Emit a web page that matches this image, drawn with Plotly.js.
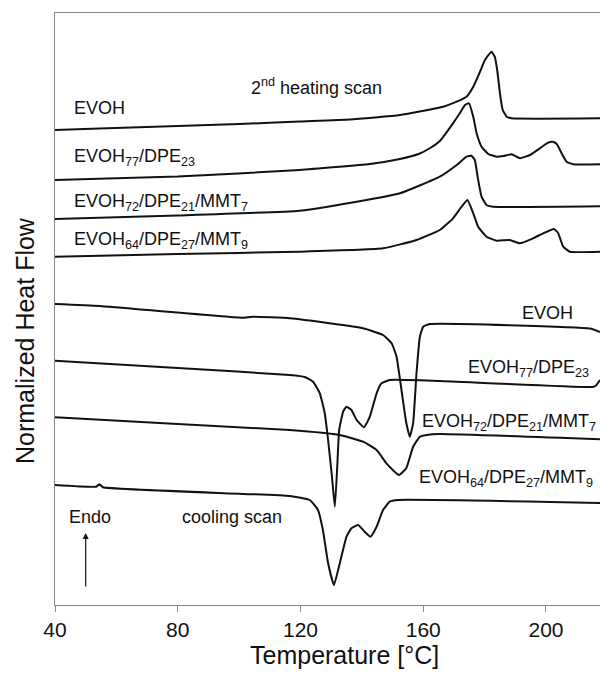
<!DOCTYPE html>
<html>
<head>
<meta charset="utf-8">
<script src="https://cdn.plot.ly/plotly-3.0.1.min.js"></script>
<style>html,body{margin:0;padding:0;background:#fff;}#chart{width:600px;height:675px;}</style>
</head>
<body>
<div id="chart"></div>
<script>
// ---- Data (temperature in °C, normalized heat flow in arbitrary offset units) ----
// 2nd heating scan
const heatEVOH_T = [40, 54.5, 80, 100.2, 119.7, 136.1, 152.4, 166.5, 170.9, 174.1, 176.3, 178.5, 180.1, 181.7, 182.3, 183.3, 184.1, 185.0, 185.9, 187.2, 188.8, 217.6];
const heatEVOH_Q = [475, 476.5, 479, 481, 483.5, 485.5, 490, 498.3, 503.3, 508.3, 518.3, 533.3, 545, 551.7, 553.3, 548.3, 535, 511.7, 495, 488.3, 486.7, 486.7];

const heatDPE23_T = [40, 80, 119.7, 142.6, 152.4, 158.5, 162.0, 165.4, 169.7, 171.9, 173.6, 174.9, 176.3, 177.4, 179.0, 181.2, 183.9, 186.1, 188.8, 191.5, 194.8, 198.0, 200.7, 202.2, 203.5, 205.1, 206.7, 208.9, 217.6];
const heatDPE23_Q = [425, 428.5, 435, 441, 446, 451, 456.5, 464, 481.7, 491.7, 500, 501.7, 488.3, 471.7, 458.3, 451, 448.3, 449, 450.7, 446.7, 450, 456.7, 462.3, 463.3, 461, 451.7, 443.3, 440.7, 440.7];

const heatMMT7_T = [40, 80, 119.7, 141.5, 152.4, 165.4, 170.9, 174.1, 175.7, 176.8, 177.9, 179.0, 180.6, 182.8, 217.6];
const heatMMT7_Q = [386, 389.5, 394.3, 405, 411.7, 428.3, 440, 448.3, 449.3, 445, 425, 408.3, 400, 398.3, 398.7];

const heatMMT9_T = [40, 80, 119.7, 146.9, 157.8, 165.4, 169.7, 172.5, 174.4, 176.3, 177.9, 180.6, 183.9, 188.2, 191.5, 195.8, 199.1, 202.6, 204.0, 205.6, 207.8, 217.6];
const heatMMT9_Q = [348.3, 351, 353.3, 356.7, 365, 375, 386.7, 398.3, 405, 391.7, 378.3, 368.3, 364.3, 365, 361.7, 366.7, 371.7, 376, 371.7, 358.3, 353.3, 353.3];

// cooling scan
const coolEVOH_T = [40, 54.5, 100.7, 104.5, 116.5, 129.5, 140.4, 146.9, 149.7, 151.3, 152.9, 154.5, 155.6, 156.7, 157.8, 158.9, 160.0, 162.1, 214.3, 217.6];
const coolEVOH_Q = [301, 299, 287.3, 288.3, 286.7, 281.7, 276.7, 270, 261.7, 248.3, 215, 181.7, 168.3, 181.7, 231.7, 268.3, 278.3, 281, 276.5, 273];

const coolDPE23_T = [40, 80, 116.5, 121.4, 124.1, 126.3, 127.9, 129.0, 130.2, 131.2, 132.0, 132.6, 133.9, 135.0, 136.6, 138.3, 140.7, 142.6, 144.8, 146.4, 149.1, 165.4, 215.3, 216.3, 217.6];
const coolDPE23_Q = [244.3, 237, 230, 228, 223.3, 211.7, 191.7, 165, 130, 98.3, 140, 175, 193.3, 198.3, 195, 185, 177.7, 188.3, 211.7, 221.7, 225, 224, 218, 219.5, 225];

const coolMMT7_T = [40, 80, 116.5, 132.8, 140.4, 144.8, 148.0, 150.1, 152.1, 154.5, 156.7, 158.9, 161.1, 165.4, 217.6];
const coolMMT7_Q = [187.7, 181, 175, 170, 163.3, 155, 141.7, 135, 130, 137, 158.3, 168.3, 170, 171, 165.7];

const coolMMT9_T = [40, 53.4, 54.5, 55.6, 116.5, 123.0, 125.7, 127.3, 129.0, 130.9, 132.8, 135.0, 136.6, 138.8, 140.9, 142.8, 144.8, 146.9, 149.1, 151.8, 217.6];
const coolMMT9_Q = [120, 118.3, 120.7, 117.7, 109, 105, 95, 75, 41.7, 20, 41.7, 68.3, 76.7, 80, 73.3, 68.3, 78.3, 95, 103.3, 105, 102];

const xTicks = [40, 80, 120, 160, 200];

// ---- Build traces ----
const FONT = '"Liberation Sans", Arial, sans-serif';
const lineStyle = {color: '#111', width: 2, shape: 'spline', smoothing: 0.4};
const series = [
  ['EVOH (heating)', heatEVOH_T, heatEVOH_Q],
  ['EVOH77/DPE23 (heating)', heatDPE23_T, heatDPE23_Q],
  ['EVOH72/DPE21/MMT7 (heating)', heatMMT7_T, heatMMT7_Q],
  ['EVOH64/DPE27/MMT9 (heating)', heatMMT9_T, heatMMT9_Q],
  ['EVOH (cooling)', coolEVOH_T, coolEVOH_Q],
  ['EVOH77/DPE23 (cooling)', coolDPE23_T, coolDPE23_Q],
  ['EVOH72/DPE21/MMT7 (cooling)', coolMMT7_T, coolMMT7_Q],
  ['EVOH64/DPE27/MMT9 (cooling)', coolMMT9_T, coolMMT9_Q]
];
const traces = series.map(s => ({
  type: 'scatter', mode: 'lines', name: s[0], x: s[1], y: s[2],
  line: lineStyle, hoverinfo: 'skip'
}));

function lab(text, x, y, size) {
  return {text: text, x: x, y: y, xref: 'x', yref: 'y', xanchor: 'left', yanchor: 'middle',
          showarrow: false, font: {family: FONT, size: size || 18, color: '#111'}};
}

const annotations = [
  lab('EVOH', 45.4, 497),
  lab('2<sup>nd</sup> heating scan', 103.2, 519),
  lab('EVOH<sub>77</sub>/DPE<sub>23</sub>', 45.4, 448),
  lab('EVOH<sub>72</sub>/DPE<sub>21</sub>/MMT<sub>7</sub>', 45.4, 403),
  lab('EVOH<sub>64</sub>/DPE<sub>27</sub>/MMT<sub>9</sub>', 45.4, 364.5),
  lab('EVOH', 191.5, 292),
  lab('EVOH<sub>77</sub>/DPE<sub>23</sub>', 173.9, 237),
  lab('EVOH<sub>72</sub>/DPE<sub>21</sub>/MMT<sub>7</sub>', 158.9, 183),
  lab('EVOH<sub>64</sub>/DPE<sub>27</sub>/MMT<sub>9</sub>', 157.9, 126.5),
  lab('Endo', 43.8, 88),
  lab('cooling scan', 80.6, 88),
  {x: 50, y: 72, ax: 50, ay: 17, xref: 'x', yref: 'y', axref: 'x', ayref: 'y', text: '',
   showarrow: true, arrowhead: 2, arrowsize: 1, arrowwidth: 1.2, arrowcolor: '#111'},
  {text: 'Temperature [°C]', x: 0.532, y: -0.0845, xref: 'paper', yref: 'paper',
   xanchor: 'center', yanchor: 'middle', showarrow: false, font: {family: FONT, size: 25, color: '#111'}},
  {text: 'Normalized Heat Flow', x: -0.055, y: 0.446, xref: 'paper', yref: 'paper', textangle: -90,
   xanchor: 'center', yanchor: 'middle', showarrow: false, font: {family: FONT, size: 25, color: '#111'}}
];

const layout = {
  width: 600, height: 675,
  margin: {l: 55, r: 0, t: 13, b: 70, pad: 0},
  paper_bgcolor: '#fff', plot_bgcolor: '#fff',
  showlegend: false,
  font: {family: FONT, color: '#111'},
  xaxis: {
    range: [40, 217.6], tickvals: xTicks, ticktext: xTicks.map(String),
    ticks: 'outside', ticklen: 6, tickwidth: 1, tickcolor: '#888',
    showline: true, linecolor: '#888', linewidth: 1, mirror: true,
    showgrid: false, zeroline: false,
    tickfont: {family: FONT, size: 21, color: '#111'}
  },
  yaxis: {
    range: [0, 592], showticklabels: false, ticks: '',
    showline: true, linecolor: '#888', linewidth: 1,
    showgrid: false, zeroline: false
  },
  annotations: annotations
};

Plotly.newPlot('chart', traces, layout, {displayModeBar: false, staticPlot: true});
</script>
</body>
</html>
